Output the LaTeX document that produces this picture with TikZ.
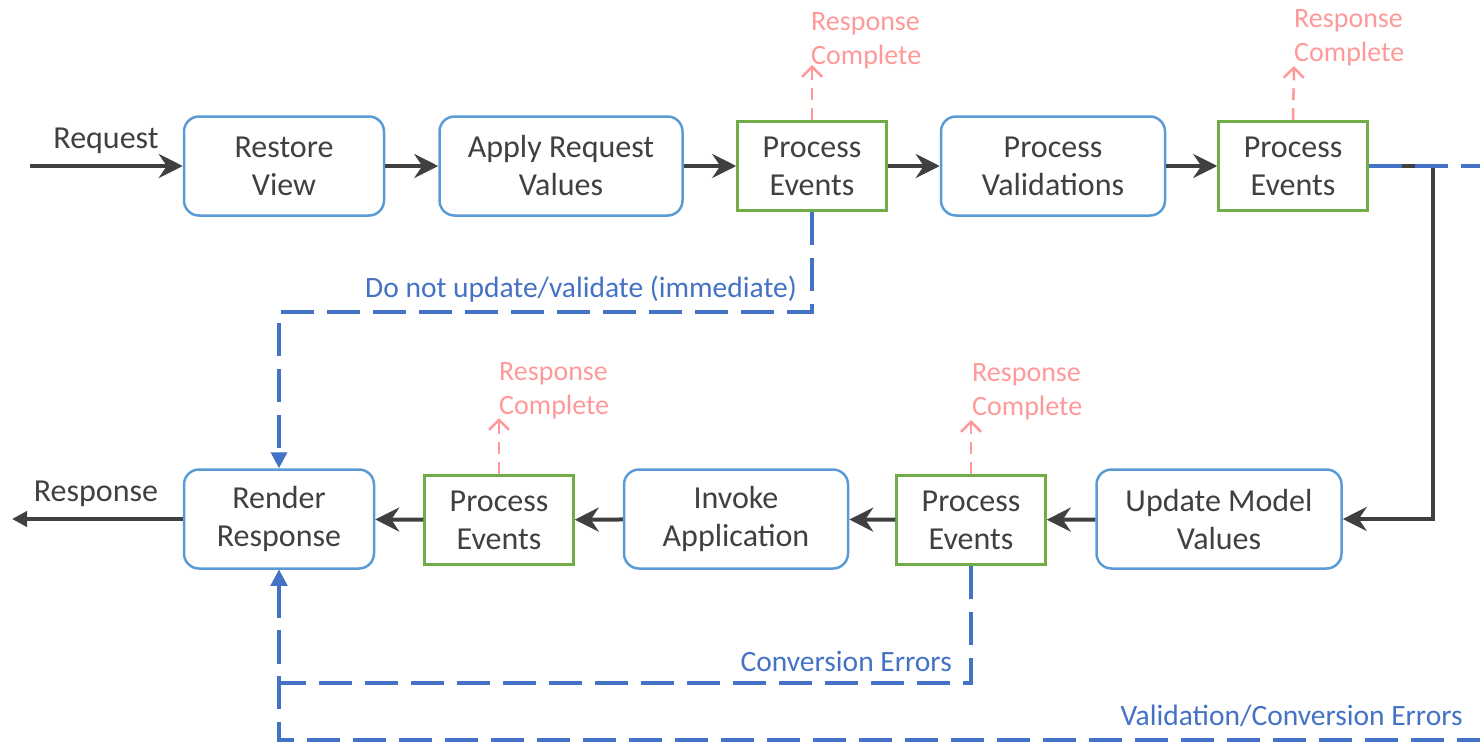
\documentclass[tikz,border=0pt]{standalone}
\usepackage{fontspec}
\setmainfont{Carlito}
\usetikzlibrary{arrows.meta}

\definecolor{txtgray}{HTML}{404040}
\definecolor{phaseblue}{HTML}{5B9BD5}
\definecolor{eventgreen}{HTML}{70AD47}
\definecolor{errblue}{HTML}{4472C4}
\definecolor{donepink}{HTML}{FF9999}

\tikzset{
  phase/.style={draw=phaseblue, line width=2.5pt, rounded corners=15pt,
    minimum height=99pt, inner sep=0pt, align=center, text=txtgray,
    font=\fontsize{32}{38}\selectfont},
  events/.style={draw=eventgreen, line width=2.5pt, minimum width=149pt,
    minimum height=89pt, inner sep=0pt, align=center, text=txtgray,
    font=\fontsize{32}{38}\selectfont},
  flow/.style={draw=txtgray, line width=4pt,
    -{Stealth[length=24pt,width=24pt,inset=8pt]}},
  outflow/.style={draw=txtgray, line width=4pt,
    -{Triangle[length=15pt,width=15pt]}},
  errline/.style={draw=errblue, line width=3.5pt, dash pattern=on 33pt off 13pt},
  errpath/.style={errline, -{Triangle[length=16pt,width=16pt]}},
  done/.style={draw=donepink, line width=2.5pt, dash pattern=on 12pt off 8pt,
    -{Straight Barb[length=10pt,width=20pt]}},
  donelabel/.style={text=donepink, inner sep=0pt, align=left, anchor=west,
    font=\fontsize{28}{34}\selectfont},
  errlabel/.style={text=errblue, inner sep=0pt, anchor=east,
    font=\fontsize{29.5}{34}\selectfont},
  plainlabel/.style={text=txtgray, inner sep=0pt, font=\fontsize{32}{38}\selectfont},
}

\begin{document}
\begin{tikzpicture}[x=1pt, y=-1pt]
\useasboundingbox (0,0) rectangle (1480,742);

% top row
\node[phase, minimum width=200pt] (restore) at (284,166) {Restore\\View};
\node[phase, minimum width=243pt] (apply) at (561,166) {Apply Request\\Values};
\node[events] (pe1) at (812,166) {Process\\Events};
\node[phase, minimum width=224pt] (validate) at (1053,166) {Process\\Validations};
\node[events] (pe2) at (1293,166) {Process\\Events};

% bottom row
\node[phase, minimum width=190pt] (render) at (279,519) {Render\\Response};
\node[events] (pe3) at (499,520) {Process\\Events};
\node[phase, minimum width=224pt] (invoke) at (736,519) {Invoke\\Application};
\node[events] (pe4) at (971,520) {Process\\Events};
\node[phase, minimum width=245pt] (update) at (1219,519) {Update Model\\Values};

\coordinate (reqin) at (30,166);
\coordinate (respout) at (12,519);
\coordinate (exitA) at (1490,166);
\coordinate (exitB) at (1490,740);

\node[plainlabel] (reqlabel) at (106,141) {Request};
\node[plainlabel] (resplabel) at (96,494) {Response};

\draw[flow] (reqin) -- (restore);
\draw[flow] (restore) -- (apply);
\draw[flow] (apply) -- (pe1);
\draw[flow] (pe1) -- (validate);
\draw[flow] (validate) -- (pe2);
\draw[flow] (pe2.east) -- ++(64,0) |- (update.east);
\draw[flow] (update) -- (pe4);
\draw[flow] (pe4) -- (invoke);
\draw[flow] (invoke) -- (pe3);
\draw[flow] (pe3) -- (render);
\draw[outflow] (render) -- (respout);

% error paths
\draw[errline] (pe2.east) -- (exitA);
\draw[errpath] (pe1.south) -- ++(0,100) -| (render.north);
\draw[errpath] (pe4.south) -- ++(0,117) -| (render.south);
\draw[errpath] (exitB) -| (render.south);
\node[errlabel] (immlabel) at (797,289) {Do not update/validate (immediate)};
\node[errlabel] (convlabel) at (952,661) {Conversion Errors};
\node[errlabel] (vallabel) at (1463,716) {Validation/Conversion Errors};

% response complete
\coordinate (dn1) at (812,65);
\coordinate (dn2) at (1294,66);
\coordinate (dn3) at (499,418);
\coordinate (dn4) at (971,420);
\draw[done] (pe1.north) -- (dn1);
\draw[done] (pe2.north) -- (dn2);
\draw[done] (pe3.north) -- (dn3);
\draw[done] (pe4.north) -- (dn4);
\node[donelabel] (done1) at (811,41) {Response\\Complete};
\node[donelabel] (done2) at (1294,38) {Response\\Complete};
\node[donelabel] (done3) at (499,391) {Response\\Complete};
\node[donelabel] (done4) at (972,392) {Response\\Complete};

\end{tikzpicture}
\end{document}
